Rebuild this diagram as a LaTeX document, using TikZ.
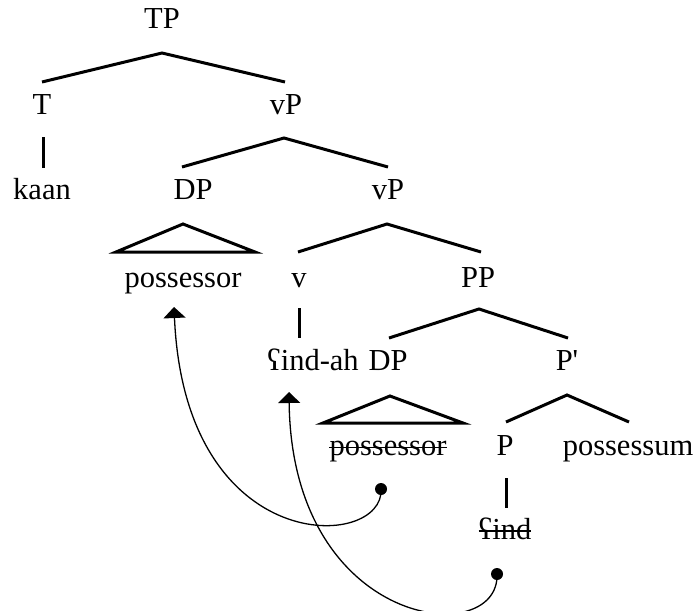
\documentclass[tikz,border=0pt]{standalone}
\usepackage{fontspec}
\setmainfont{Liberation Serif}
\usetikzlibrary{arrows.meta}
\begin{document}
\begin{tikzpicture}[x=1pt,y=-1pt,
  lab/.style={inner sep=0pt,anchor=base,font=\fontsize{30.5}{36}\selectfont},
  br/.style={line width=3pt},
  mv/.style={line width=1.3pt,-{Triangle[width=22pt,length=11pt]}},
  dot/.style={circle,fill=black,inner sep=0pt,minimum size=12pt},
  strike/.style={line width=1.4pt}]
\useasboundingbox (0,0) rectangle (695,610);
% labels
\node[lab] (TP) at (162,29) {TP};
\node[lab] (T) at (42,114) {T};
\node[lab] (vP1) at (286,114) {vP};
\node[lab] (kaan) at (42,199) {kaan};
\node[lab] (DP1) at (193,199) {DP};
\node[lab] (vP2) at (388,199) {vP};
\node[lab] (ps1) at (183,287) {possessor};
\node[lab] (v) at (299,287) {v};
\node[lab] (PP) at (478,287) {PP};
\node[lab] (findah) at (313,370) {ʕind-ah};
\node[lab] (DP3) at (388,370) {DP};
\node[lab] (Pbar) at (567,370) {P\textquotesingle};
\node[lab] (ps2) at (388,455) {possessor};
\node[lab] (P) at (505,455) {P};
\node[lab] (pm) at (628,455) {possessum};
\node[lab] (find) at (505,539) {ʕind};
% strike-outs
\draw[strike] ([yshift=7.5pt]ps2.base west) -- ([yshift=7.5pt]ps2.base east);
\draw[strike] ([yshift=8pt]find.base west) -- ([yshift=8pt]find.base east);
% branches
\draw[br] ([yshift=32pt]T.base) -- ([yshift=-24pt]TP.base) -- ([xshift=-1pt,yshift=32pt]vP1.base);
\draw[br] ([xshift=1pt,yshift=-23pt]T.base) -- ([xshift=1pt,yshift=31pt]kaan.base);
\draw[br] ([xshift=-11pt,yshift=32pt]DP1.base) -- ([xshift=-2pt,yshift=-24pt]vP1.base) -- ([yshift=32pt]vP2.base);
\draw[br,line join=miter] ([xshift=-10pt,yshift=-25pt]DP1.base) -- ([xshift=-67pt,yshift=35pt]ps1.base) -- ([xshift=72pt,yshift=35pt]ps1.base) -- cycle;
\draw[br] ([xshift=-1pt,yshift=35pt]v.base) -- ([xshift=-1pt,yshift=-25pt]vP2.base) -- ([xshift=3pt,yshift=35pt]PP.base);
\draw[br] ([yshift=-21pt]v.base) -- ([xshift=-14pt,yshift=32pt]findah.base);
\draw[br] ([xshift=1pt,yshift=32pt]DP3.base) -- ([xshift=1pt,yshift=-22pt]PP.base) -- ([xshift=1pt,yshift=32pt]Pbar.base);
\draw[br,line join=miter] ([xshift=2pt,yshift=-26pt]DP3.base) -- ([xshift=-65pt,yshift=32pt]ps2.base) -- ([xshift=75pt,yshift=32pt]ps2.base) -- cycle;
\draw[br] ([xshift=1pt,yshift=33pt]P.base) -- ([yshift=-25pt]Pbar.base) -- ([xshift=1pt,yshift=33pt]pm.base);
\draw[br] ([xshift=1pt,yshift=-23pt]P.base) -- ([xshift=1pt,yshift=31pt]find.base);
% movement
\node[dot] (d1) at (381,489) {};
\node[dot] (d2) at (497,574) {};
\coordinate (a1) at ([xshift=-9pt,yshift=-20pt]ps1.base);
\coordinate (a2) at ([xshift=-24pt,yshift=-22pt]findah.base);
\draw[mv] (d1.center) .. controls (385,550) and (185,560) .. (a1);
\draw[mv] (d2.center) .. controls (500,650) and (292,630) .. (a2);
\end{tikzpicture}
\end{document}
